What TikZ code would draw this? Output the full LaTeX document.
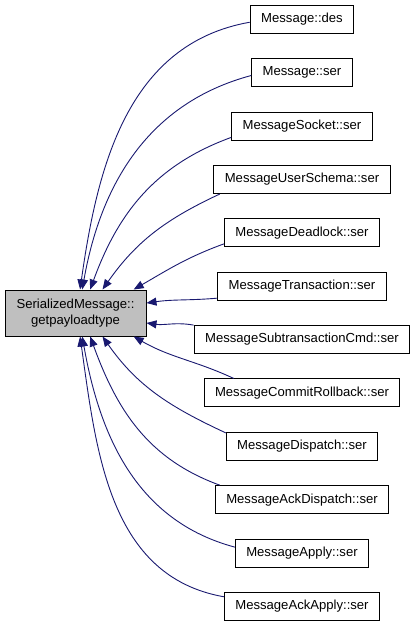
\documentclass[tikz,border=0pt]{standalone}
\usepackage{fontspec}
\setmainfont{Liberation Sans}
\usetikzlibrary{arrows.meta}
\definecolor{edgeblue}{HTML}{191970}
\begin{document}
\begin{tikzpicture}[x=1pt, y=1pt, font=\fontsize{13.1}{15.5}\selectfont,
	fn/.style={draw=black, line width=1pt, minimum height=28pt, inner xsep=11pt, inner ysep=2pt},
	edge/.style={draw=edgeblue, line width=0.9pt, {Triangle[length=10pt, width=8pt]}-}]
	% Khung hình
	\useasboundingbox (0,0) rectangle (416,-627);
	
	% Nút gốc
	\node[fn, fill=gray!50, minimum width=141pt, minimum height=46pt, align=center] (sm) at (75.5,-313) {SerializedMessage::\\getpayloadtype};
	
	% Các hàm gọi
	\foreach \t [count=\i] in {Message::des, Message::ser, MessageSocket::ser, MessageUserSchema::ser, MessageDeadlock::ser, MessageTransaction::ser, MessageSubtransactionCmd::ser, MessageCommitRollback::ser, MessageDispatch::ser, MessageAckDispatch::ser, MessageApply::ser, MessageAckApply::ser}
	\node[fn] (d\i) at (302,{-19.5-53.35*(\i-1)}) {\t};
	
	% Các cung nối
	\foreach \i/\a/\b/\o/\n in {1/79/-177/82/190, 2/74/-177/80/195, 3/58/-171/70/200, 4/41/-170/55/205, 5/22/-172/30/200, 6/8/-172/8/185, 7/-8/north west/-8/170, 8/-22/168/-30/155, 9/-41/170/-55/155, 10/-58/170/-70/160, 11/-74/175/-80/165, 12/-79/173/-82/170}
	\draw[edge] (sm.\a) to[out=\o, in=\n] (d\i.\b);
\end{tikzpicture}
\end{document}
